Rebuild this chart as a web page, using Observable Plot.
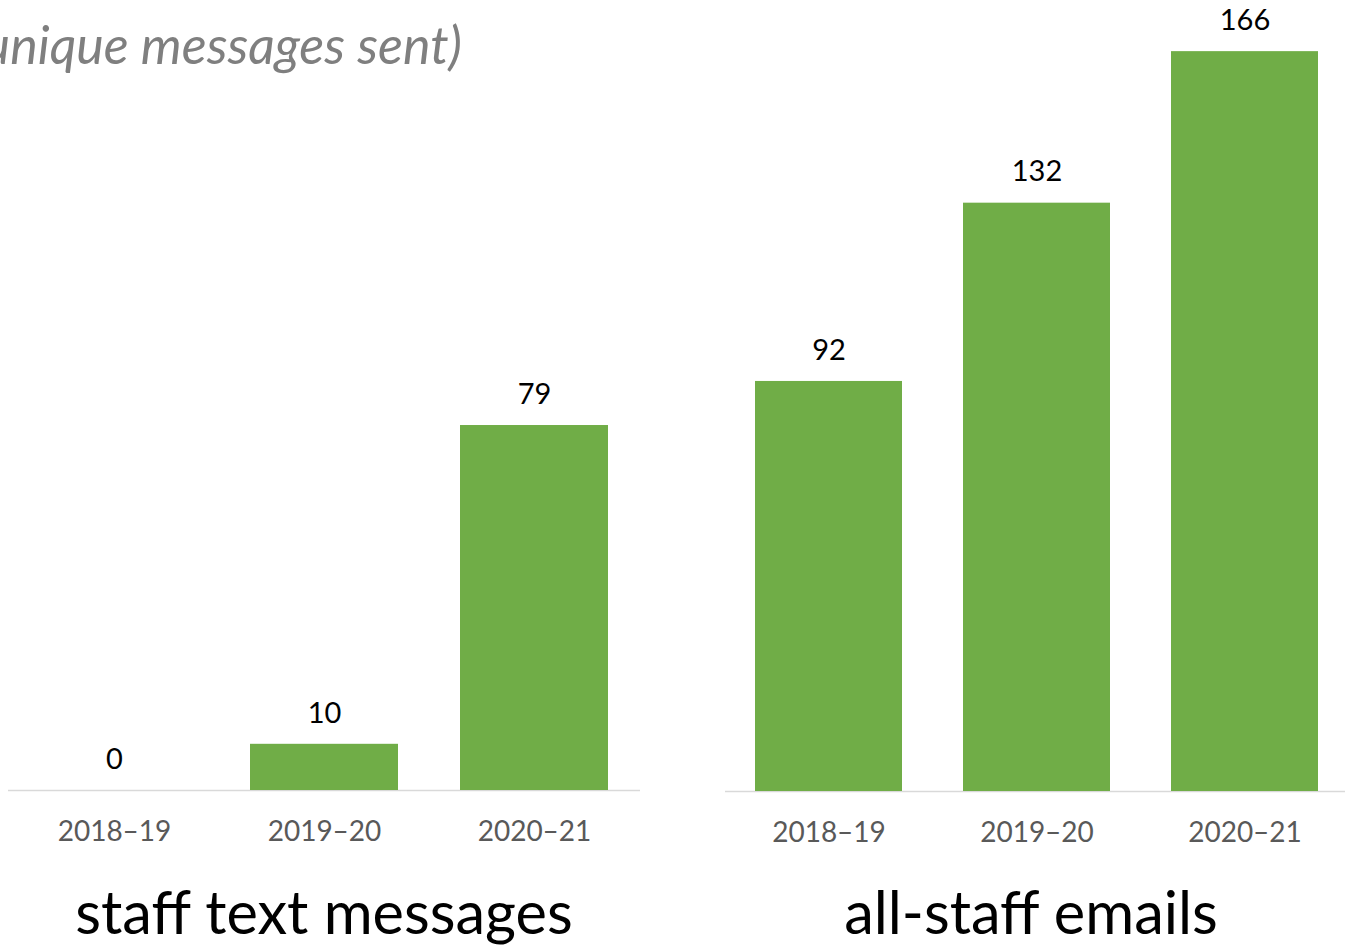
<!DOCTYPE html>
<html>
<head>
<meta charset="utf-8">
<script src="https://cdn.jsdelivr.net/npm/d3@7"></script>
<script src="https://cdn.jsdelivr.net/npm/@observablehq/plot@0.6"></script>
<style>
  html, body { margin: 0; padding: 0; background: #fff; }
  #wrap { position: relative; width: 1345px; height: 946px; overflow: hidden; font-family: Lato, "Open Sans", sans-serif; }
  .panel { position: absolute; top: 0; }
  .panel svg { max-width: none !important; }
  .ptitle { position: absolute; font-size: 59.5px; line-height: 59.5px; color: #000; white-space: nowrap; transform: translateX(-50%); }
  #ctitle { position: absolute; font-size: 52px; line-height: 52px; font-style: italic; color: #7f7f7f; white-space: nowrap; right: 883px; top: 18px; }
</style>
</head>
<body>
<div id="wrap">
  <div id="ctitle"></div>
  <div class="panel" id="left" style="left:8px; width:632px"></div>
  <div class="panel" id="right" style="left:725px; width:626px"></div>
  <div class="ptitle" id="t0" style="left:324px; top:882px"></div>
  <div class="ptitle" id="t1" style="left:1031px; top:882px"></div>
</div>
<script>
const chartTitle = "(unique messages sent)";
const panelTitles = ["staff text messages", "all-staff emails"];
const years = ["2018–19", "2019–20", "2020–21"];
const textMessages = [0, 10, 79];
const allStaffEmails = [92, 132, 166];

document.getElementById("ctitle").textContent = chartTitle;
document.getElementById("t0").textContent = panelTitles[0];
document.getElementById("t1").textContent = panelTitles[1];

function panel(values, width, xRange, yRange) {
  const data = years.map((y, i) => ({year: y, value: values[i]}));
  return Plot.plot({
    width, height: 946,
    marginTop: 0, marginBottom: 0, marginLeft: 0, marginRight: 0,
    style: {fontFamily: "Lato, 'Open Sans', sans-serif", background: "transparent", overflow: "visible", maxWidth: "none"},
    x: {domain: years, range: xRange, paddingInner: 0.295, paddingOuter: 0.1475, axis: null},
    y: {domain: [0, 100], range: yRange, axis: null},
    marks: [
      Plot.ruleY([0], {stroke: "#d9d9d9", strokeWidth: 1.5}),
      Plot.barY(data, {x: "year", y: "value", fill: "#70ad47"}),
      Plot.text(data, {x: "year", y: "value", text: d => String(d.value), dy: -31, fontSize: 29, fill: "#000"}),
      Plot.text(data, {x: "year", y: () => 0, text: "year", dy: 42, fontSize: 28, fill: "#595959"})
    ]
  });
}

document.getElementById("left").append(panel(textMessages, 632, [0, 632], [790, 790 - 462]));
document.getElementById("right").append(panel(allStaffEmails, 626, [-2, 624], [791, 791 - 445.7]));
</script>
</body>
</html>
